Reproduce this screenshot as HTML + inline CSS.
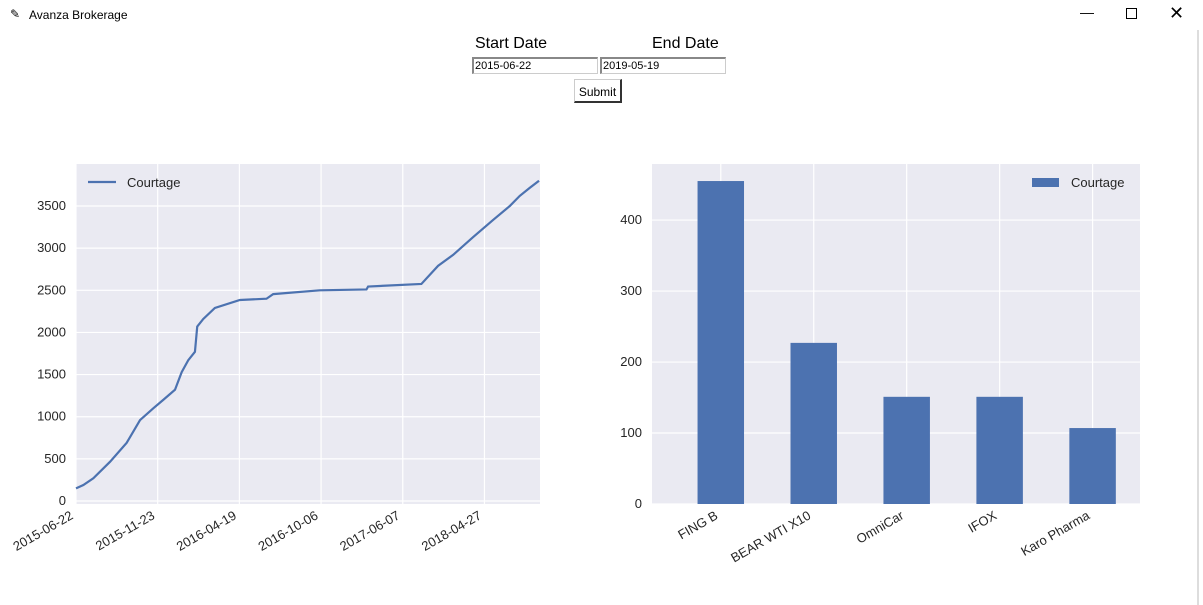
<!DOCTYPE html>
<html><head><meta charset="utf-8"><style>
body{margin:0;width:1203px;height:605px;background:#fff;overflow:hidden;font-family:"Liberation Sans",sans-serif;position:relative}
.abs{position:absolute}
input{position:absolute;height:17px;border:1px solid #ccc;border-top:2px solid #888;border-left:2px solid #888;font:11px "Liberation Sans",sans-serif;padding:0 1px;box-sizing:border-box}
</style></head><body>
<div class="abs" style="left:0;top:0;width:1203px;height:30px">
<span class="abs" style="left:10px;top:7px;font-size:12px">✎</span>
<span class="abs" style="left:29px;top:8px;font-size:12px;color:#000">Avanza Brokerage</span>
<span class="abs" style="left:1080px;top:4px;font-size:14px">—</span>
<span class="abs" style="left:1126px;top:8px;width:9px;height:9px;border:1px solid #000"></span>
<span class="abs" style="left:1169px;top:3px;font-size:18px">✕</span>
</div>
<div class="abs" style="left:1197px;top:30px;width:2px;height:575px;background:#ddd"></div>
<span class="abs" style="left:475px;top:35px;font-size:16px">Start Date</span>
<span class="abs" style="left:652px;top:35px;font-size:16px">End Date</span>
<input style="left:472px;top:57px;width:126px" value="2015-06-22">
<input style="left:600px;top:57px;width:126px" value="2019-05-19">
<div class="abs" style="left:574px;top:79px;width:48px;height:24px;border:1px solid #ccc;border-right:2px solid #333;border-bottom:2px solid #333;font-size:12px;text-align:center;line-height:24px;box-sizing:border-box">Submit</div>
<svg class="abs" style="left:0;top:0" width="1203" height="605" id="svg"></svg>
<script>
const lineIdx=[0,4.5,10.6,20.8,31,39.2,47.3,53.4,60.6,64.7,68.7,72.8,74.2,77.9,85,100.3,116.6,120.7,149.2,177.8,178.8,211.4,221.6,230.8,243,255.3,265.5,271.6,277.7,283.4];
const lineVals=[150,190,270,465,690,960,1100,1200,1320,1530,1670,1770,2070,2160,2290,2385,2400,2455,2500,2510,2545,2575,2790,2920,3130,3335,3500,3620,3715,3800];
const xTickIdx=[0,50,100,150,200,250];
const xTickLabels=['2015-06-22','2015-11-23','2016-04-19','2016-10-06','2017-06-07','2018-04-27'];
const yTicksL=[0,500,1000,1500,2000,2500,3000,3500];
const barCats=['FING B','BEAR WTI X10','OmniCar','IFOX','Karo Pharma'];
const barVals=[455,227,151,151,107];
const yTicksR=[0,100,200,300,400];
const svg=document.getElementById('svg');const NS='http://www.w3.org/2000/svg';
function mk(t,a,p){const e=document.createElementNS(NS,t);for(const k in a)e.setAttribute(k,a[k]);(p||svg).appendChild(e);return e;}
const L={x0:76,x1:540,y0:164,y1:504,imax:284};
const tx=i=>L.x0+i/L.imax*(L.x1-L.x0);
const ly=v=>501-v*0.08428;
let r=mk('rect',{x:L.x0,y:L.y0,width:L.x1-L.x0,height:L.y1-L.y0,fill:'#EAEAF2'});


yTicksL.forEach(v=>{const g=mk('line',{x1:L.x0,x2:L.x1,y1:ly(v),y2:ly(v),stroke:'#fff','stroke-width':1.2});


const t=mk('text',{x:66,y:ly(v)+4,'text-anchor':'end','font-size':13,fill:'#262626'});t.textContent=v;

});
xTickIdx.forEach((i,k)=>{const x=tx(i);const g=mk('line',{x1:x,x2:x,y1:L.y0,y2:L.y1,stroke:'#fff','stroke-width':1.2});


const t=mk('text',{x:x-2,y:L.y1+14,'text-anchor':'end','font-size':13,fill:'#262626',transform:`rotate(-30 ${x-2} ${L.y1+14})`});t.textContent=xTickLabels[k];

});
const path=mk('polyline',{points:lineIdx.map((i,k)=>tx(i)+','+ly(lineVals[k])).join(' '),fill:'none',stroke:'#4C72B0','stroke-width':2.2});


let lg=mk('line',{x1:88,x2:116,y1:182,y2:182,stroke:'#4C72B0','stroke-width':2.2});


let lt=mk('text',{x:127,y:187,'font-size':13,fill:'#262626'});lt.textContent='Courtage';


const B={x0:652,x1:1140,y0:164,y1:504,ymax:479,cmin:-0.74,cmax:4.51};
const bx=c=>B.x0+(c-B.cmin)/(B.cmax-B.cmin)*(B.x1-B.x0);
const by=v=>B.y1-v/B.ymax*(B.y1-B.y0);
r=mk('rect',{x:B.x0,y:B.y0,width:B.x1-B.x0,height:B.y1-B.y0,fill:'#EAEAF2'});


yTicksR.forEach(v=>{const g=mk('line',{x1:B.x0,x2:B.x1,y1:by(v),y2:by(v),stroke:'#fff','stroke-width':1.2});


const t=mk('text',{x:B.x0-10,y:by(v)+4,'text-anchor':'end','font-size':13,fill:'#262626'});t.textContent=v;

});
barCats.forEach((c,k)=>{const x=bx(k);const g=mk('line',{x1:x,x2:x,y1:B.y0,y2:B.y1,stroke:'#fff','stroke-width':1.2});

});
barCats.forEach((c,k)=>{const x=bx(k);const w=0.5*(bx(1)-bx(0));
const b=mk('rect',{x:x-w/2,y:by(barVals[k]),width:w,height:by(0)-by(barVals[k]),fill:'#4C72B0'});


const t=mk('text',{x:x-2,y:B.y1+14,'text-anchor':'end','font-size':13,fill:'#262626',transform:`rotate(-30 ${x-2} ${B.y1+14})`});t.textContent=c;

});
lg=mk('rect',{x:1032,y:178,width:27,height:9,fill:'#4C72B0'});


lt=mk('text',{x:1071,y:187,'font-size':13,fill:'#262626'});lt.textContent='Courtage';


</script>
</body></html>
